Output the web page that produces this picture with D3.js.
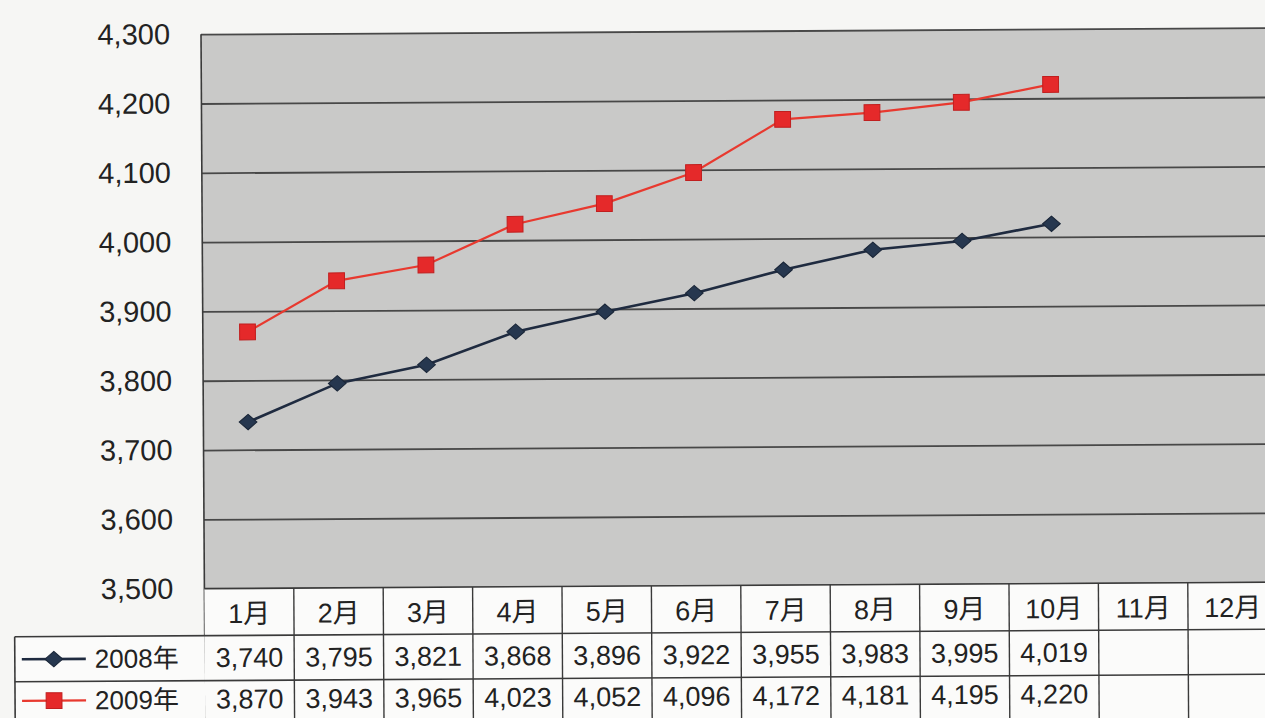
<!DOCTYPE html>
<html>
<head>
<meta charset="utf-8">
<script src="https://cdn.jsdelivr.net/npm/d3@7"></script>
<style>
  html, body { margin: 0; padding: 0; background: #f6f6f4; }
  svg { display: block; }
  text { font-family: "Liberation Sans", "Noto Sans CJK JP", sans-serif; fill: #222; }
</style>
</head>
<body>
<svg id="chart" width="1265" height="718"></svg>
<script>
const months = ["1月","2月","3月","4月","5月","6月","7月","8月","9月","10月","11月","12月"];
const seriesNames = ["2008年","2009年"];
const values2008 = [3740,3795,3821,3868,3896,3922,3955,3983,3995,4019];
const values2009 = [3870,3943,3965,4023,4052,4096,4172,4181,4195,4220];
const yTicks = [3500,3600,3700,3800,3900,4000,4100,4200,4300];

const W = 1265, H = 718;
const plotLeft = 203, colW = 89.4, plotRight = plotLeft + colW * 12;
const plotTop = 31.5, plotBottom = 586;
const headerBottom = 633, row1Bottom = 678, row2Bottom = 723;
const tableLeft = 13;

const svg = d3.select("#chart");
const g = svg.append("g").attr("transform", "rotate(-0.35, 640, 360)");

const x = d3.scaleBand().domain(months).range([plotLeft, plotRight]).padding(0);
const y = d3.scaleLinear().domain([3500, 4300]).range([plotBottom, plotTop]);

// plot background
g.append("rect")
  .attr("x", plotLeft).attr("y", plotTop)
  .attr("width", plotRight - plotLeft).attr("height", plotBottom - plotTop)
  .attr("fill", "#c9c9c8");

// gridlines
const grid = g.append("g")
  .attr("transform", `translate(${plotLeft},0)`)
  .call(d3.axisLeft(y).tickValues(yTicks).tickSize(-(plotRight - plotLeft)).tickFormat(""));
grid.select(".domain").remove();
grid.selectAll("line").attr("stroke", "#484848").attr("stroke-width", 1.8);

// y axis labels
const yAxis = g.append("g")
  .attr("transform", `translate(${plotLeft},0)`)
  .call(d3.axisLeft(y).tickValues(yTicks).tickSize(0).tickPadding(31).tickFormat(d3.format(",")));
yAxis.select(".domain").remove();
yAxis.selectAll("text").attr("font-size", 29).attr("fill", "#2a2a2a")
  .style("font-family", '"Liberation Sans", sans-serif');

// left border of plot & table
g.append("line").attr("x1", plotLeft).attr("x2", plotLeft)
  .attr("y1", plotTop).attr("y2", row2Bottom)
  .attr("stroke", "#3a3a3a").attr("stroke-width", 1.6);

// series
const series = [
  { name: seriesNames[0], values: values2008, color: "#1f2b40", fill: "#26374f", shape: "diamond", width: 2.6 },
  { name: seriesNames[1], values: values2009, color: "#e8392f", fill: "#e5292a", shape: "square", width: 2.2 }
];

const line = d3.line()
  .x((d, i) => x(months[i]) + x.bandwidth() / 2)
  .y(d => y(d));

function drawMarker(sel, s, cx, cy) {
  if (s.shape === "diamond") {
    sel.append("path")
      .attr("d", d3.symbol().type(d3.symbolDiamond2).size(150)())
      .attr("transform", `translate(${cx},${cy}) scale(1.15,1)`)
      .attr("fill", s.fill).attr("stroke", "#1a2638").attr("stroke-width", 1);
  } else {
    sel.append("path")
      .attr("d", d3.symbol().type(d3.symbolSquare).size(250)())
      .attr("transform", `translate(${cx},${cy})`)
      .attr("fill", s.fill).attr("stroke", "#c01f1f").attr("stroke-width", 1);
  }
}

series.forEach(s => {
  g.append("path").datum(s.values)
    .attr("d", line).attr("fill", "none")
    .attr("stroke", s.color).attr("stroke-width", s.width);
  const mg = g.append("g");
  s.values.forEach((v, i) => drawMarker(mg, s, x(months[i]) + x.bandwidth() / 2, y(v)));
});

// data table
const tbl = g.append("g");
tbl.append("rect").attr("x", plotLeft).attr("y", plotBottom)
  .attr("width", plotRight - plotLeft).attr("height", row2Bottom - plotBottom)
  .attr("fill", "#fbfbfa");
tbl.append("rect").attr("x", tableLeft).attr("y", headerBottom)
  .attr("width", plotLeft - tableLeft).attr("height", row2Bottom - headerBottom)
  .attr("fill", "#fbfbfa");

const lineColor = "#3a3a3a";
[[plotLeft, plotBottom], [tableLeft, headerBottom], [tableLeft, row1Bottom], [tableLeft, row2Bottom]].forEach(([x0, yy]) => {
  tbl.append("line").attr("x1", x0).attr("x2", plotRight)
    .attr("y1", yy).attr("y2", yy)
    .attr("stroke", lineColor).attr("stroke-width", 1.6);
});
tbl.append("line").attr("x1", tableLeft).attr("x2", tableLeft)
  .attr("y1", headerBottom).attr("y2", row2Bottom)
  .attr("stroke", lineColor).attr("stroke-width", 1.6);
months.forEach(m => {
  const xx = x(m) + x.bandwidth();
  tbl.append("line").attr("x1", xx).attr("x2", xx)
    .attr("y1", plotBottom).attr("y2", row2Bottom)
    .attr("stroke", lineColor).attr("stroke-width", 1.4);
});

// header labels
tbl.selectAll("text.month").data(months).join("text")
  .attr("class", "month")
  .attr("x", d => x(d) + x.bandwidth() / 2)
  .attr("y", (plotBottom + headerBottom) / 2 + 2)
  .attr("text-anchor", "middle").attr("dominant-baseline", "central")
  .attr("font-size", 27)
  .text(d => d);

const fmt = d3.format(",");
const rowCenters = [(headerBottom + row1Bottom) / 2, row1Bottom + 19];
series.forEach((s, r) => {
  const cy = rowCenters[r];
  tbl.append("line").attr("x1", 20).attr("x2", 84).attr("y1", cy).attr("y2", cy)
    .attr("stroke", s.color).attr("stroke-width", s.width);
  drawMarker(tbl, s, 52, cy);
  tbl.append("text").attr("x", 93).attr("y", cy)
    .attr("dominant-baseline", "central").attr("font-size", 26)
    .text(s.name);
  tbl.selectAll(null).data(s.values).join("text")
    .attr("x", (d, i) => x(months[i]) + x.bandwidth() / 2)
    .attr("y", cy)
    .attr("text-anchor", "middle").attr("dominant-baseline", "central")
    .attr("font-size", 27)
    .text(d => fmt(d));
});
</script>
</body>
</html>
